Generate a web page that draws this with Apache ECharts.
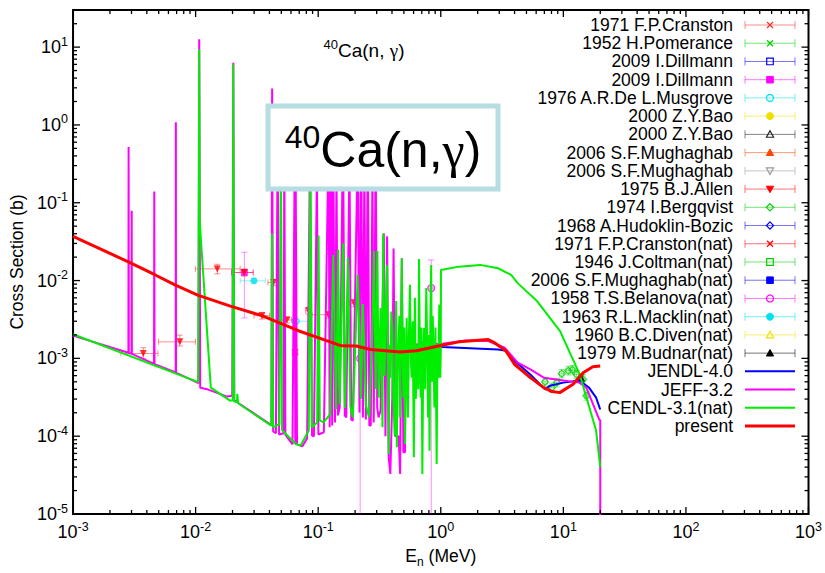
<!DOCTYPE html>
<html>
<head>
<meta charset="utf-8">
<script src="https://cdn.jsdelivr.net/npm/echarts@6/dist/echarts.min.js"></script>
<style>html,body{margin:0;padding:0;background:#fff}#c{width:825px;height:573px}</style>
</head>
<body>
<div id="c"></div>
<script>
// ---------------- axis ranges ----------------
const X_MIN = 1e-3, X_MAX = 1e3, Y_MIN = 1e-5, Y_MAX = 30;

// ---------------- evaluated data: [E (MeV), sigma (b)] ----------------
const jendl40 = [
  [0.497, 1.49e-3], [1.028, 1.40e-3], [2.93, 1.30e-3], [3.40, 1.25e-3], [3.99, 9.3e-4],
  [5.38, 6.22e-4], [7.09, 4.0e-4], [7.78, 4.46e-4], [10.0, 4.88e-4], [13.5, 5.2e-4],
  [16.2, 4.21e-4], [18.5, 3.13e-4], [20.0, 2.2e-4]
];

const jeff32 = [
  [1.0e-3, 1.96e-3],
  [2.83e-3, 1.18e-3], [2.84e-3, 0.52], [2.85e-3, 1.17e-3],
  [3.00e-3, 1.15e-3], [3.01e-3, 0.079], [3.02e-3, 1.14e-3],
  [4.58e-3, 8.5e-4], [4.60e-3, 0.14], [4.62e-3, 8.4e-4],
  [6.88e-3, 6.6e-4], [6.90e-3, 1.08], [6.92e-3, 6.55e-4],
  [0.01055, 4.8e-4], [0.0107, 12.6], [0.0109, 4.2e-4], [0.0125, 4.0e-4],
  [0.0181, 3.23e-4], [0.0199, 3.3e-4], [0.0203, 6.3], [0.0207, 2.9e-4],
  [0.0231, 2.57e-4], [0.0415, 1.39e-4],
  [0.0421, 2.95], [0.0429, 1.15e-4], [0.0452, 1.09e-4], [0.0467, 0.89], [0.0480, 1.05e-4],
  [0.0522, 1.09e-4], [0.0529, 0.5], [0.0540, 1.05e-4], [0.0617, 7.86e-5], [0.0643, 0.367],
  [0.0650, 8.0e-5], [0.0655, 0.274], [0.0672, 7.86e-5], [0.0741, 7.4e-5], [0.0812, 9.37e-5],
  [0.0858, 0.5], [0.0890, 1.02e-4], [0.0923, 1.0e-4], [0.0976, 0.236], [0.1004, 1.05e-4],
  [0.1112, 1.12e-4], [0.1217, 0.662], [0.1240, 1.3e-4], [0.1273, 0.367], [0.1300, 1.37e-4],
  [0.1327, 0.5], [0.1371, 1.5e-4], [0.1410, 0.274], [0.1450, 1.85e-4], [0.1498, 2.33e-4],
  [0.1594, 0.89], [0.1648, 1.85e-4], [0.1694, 1.74e-4], [0.1800, 0.367], [0.1860, 1.64e-4],
  [0.1917, 1.58e-4], [0.2101, 0.5], [0.2172, 2.01e-4], [0.2233, 1.19], [0.2317, 1.74e-4],
  [0.2382, 0.367], [0.2450, 1.64e-4], [0.2541, 0.662], [0.2614, 1.37e-4], [0.2685, 1.37e-4],
  [0.2770, 0.274], [0.2837, 1.5e-4], [0.2943, 0.5], [0.3030, 2.33e-4], [0.3110, 1.74e-4],
  [0.3226, 2.14e-4], [0.3428, 0.0404], [0.3537, 1.0e-4], [0.3649, 0.037], [0.3758, 5.36e-5],
  [0.3877, 3.27e-5], [0.4023, 3.13e-4], [0.4120, 0.0259], [0.4250, 1.0e-4], [0.4533, 1.0e-4],
  [0.4660, 3.27e-5], [0.4808, 0.0193], [0.4952, 6.21e-5], [0.5108, 6.21e-5],
  [0.512, 1.5e-3], [1.03, 1.54e-3], [1.59, 1.70e-3], [2.44, 1.67e-3], [3.32, 1.37e-3],
  [4.24, 8.8e-4], [5.38, 7.2e-4], [6.92, 5.65e-4], [10.0, 5.2e-4], [13.5, 4.88e-4],
  [15.4, 4.21e-4], [19.6, 1.64e-4], [20.0, 1.6e-4], [20.0, 1.0e-6]
];

const cendl31 = [
  [1.0e-3, 2.04e-3], [0.0105, 4.95e-4], [0.0107, 9.4], [0.0108, 0.058], [0.0133, 4.21e-4],
  [0.0192, 2.84e-4], [0.0201, 2.9e-4], [0.0203, 6.0], [0.0206, 2.8e-4], [0.0217, 2.75e-4],
  [0.0219, 3.5e-4], [0.0222, 2.65e-4], [0.0415, 1.36e-4],
  [0.0420, 0.040], [0.0429, 1.30e-4], [0.0482, 1.43e-4], [0.0497, 0.5], [0.0507, 1.2e-4],
  [0.0655, 7.93e-5], [0.0718, 7.56e-5], [0.0838, 1.18e-4], [0.0863, 0.5], [0.0890, 1.3e-4],
  [0.0980, 1.5e-4], [0.1007, 0.038], [0.1030, 1.6e-4], [0.1104, 1.50e-4],
  [0.1250, 1.9e-4], [0.1327, 0.0213], [0.1400, 2.2e-4], [0.1455, 0.025], [0.1498, 2.57e-4],
  [0.1594, 0.030], [0.1650, 2.3e-4], [0.1748, 0.020], [0.1830, 2.4e-4], [0.1917, 1.74e-4],
  [0.2101, 0.012], [0.2233, 3.0e-4], [0.2317, 5.0e-3], [0.2450, 2.5e-4], [0.2602, 1.74e-4],
  [0.2770, 2.5e-3], [0.2852, 0.024], [0.2943, 4.0e-4], [0.3042, 0.024], [0.3110, 3.13e-4],
  [0.3226, 4.44e-3], [0.3347, 1.3e-4], [0.3386, 0.040], [0.3480, 6.0e-4], [0.3560, 4.0e-3],
  [0.3649, 0.0159], [0.3700, 8.0e-4], [0.3758, 5.9e-5], [0.3820, 1.5e-3], [0.3877, 5.65e-4],
  [0.3950, 4.0e-3], [0.4023, 2.46e-3], [0.4100, 3.0e-4], [0.4212, 1.0e-4], [0.4280, 2.0e-3],
  [0.4329, 5.46e-3], [0.4385, 7.2e-5], [0.4460, 8.0e-4], [0.4533, 1.83e-3], [0.4600, 3.5e-3],
  [0.4660, 1.74e-4], [0.4808, 0.0193], [0.4880, 1.2e-3], [0.4952, 3.13e-4], [0.5030, 2.5e-3],
  [0.5108, 7.93e-5], [0.5271, 3.3e-3], [0.5330, 6.0e-4], [0.5399, 1.74e-4], [0.5500, 2.0e-3],
  [0.5602, 8.81e-3], [0.5700, 1.0e-3], [0.5780, 5.65e-4], [0.5900, 3.0e-3], [0.6029, 5.36e-5],
  [0.6150, 6.0e-3], [0.6256, 3.0e-4], [0.6431, 1.5e-3], [0.6550, 4.0e-4], [0.6648, 0.0189],
  [0.6750, 1.0e-3], [0.6859, 3.13e-4], [0.6960, 2.5e-3], [0.7075, 3.27e-5], [0.7200, 1.2e-3],
  [0.7314, 2.46e-3], [0.7450, 4.0e-4], [0.7616, 8.0e-3], [0.7750, 1.5e-3], [0.7872, 1.74e-4],
  [0.7980, 2.0e-3], [0.8093, 6.52e-5], [0.8220, 3.0e-3], [0.8349, 0.0159], [0.8470, 5.0e-4],
  [0.8599, 3.51e-3], [0.8740, 1.0e-3], [0.8873, 2.33e-4], [0.9050, 2.5e-3], [0.9255, 4.4e-5],
  [0.9400, 1.5e-3], [0.9548, 5.65e-4], [0.9725, 4.89e-3], [0.9910, 5.65e-4], [1.0, 1.2e-3],
  [1.0035, 0.0137], [1.405, 0.0151], [2.095, 0.0159], [2.93, 0.0144], [3.75, 0.0118],
  [4.24, 9.27e-3], [6.12, 5.41e-3], [9.4, 2.24e-3], [13.6, 6.22e-4], [18.5, 1.18e-4],
  [20.0, 4.0e-5]
];

const present = [
  [1.0e-3, 0.037], [2.80e-3, 0.0175], [4.69e-3, 0.0118], [6.78e-3, 8.8e-3], [0.0104, 6.5e-3],
  [0.0192, 4.7e-3], [0.0355, 3.5e-3], [0.0697, 2.25e-3], [0.155, 1.45e-3], [0.2035, 1.44e-3],
  [0.2685, 1.30e-3], [0.466, 1.21e-3], [0.634, 1.25e-3], [0.98, 1.45e-3], [1.405, 1.63e-3],
  [2.44, 1.75e-3], [2.76, 1.58e-3], [3.40, 1.25e-3], [3.99, 8.4e-4], [5.38, 5.65e-4],
  [6.92, 4.21e-4], [8.07, 3.74e-4], [9.35, 3.63e-4], [12.0, 4.64e-4], [14.5, 6.55e-4],
  [17.4, 7.8e-4], [20.0, 7.97e-4]
];

// ---------------- experimental data: [E, sigma, Elow, Ehigh, sigmaLow, sigmaHigh] ----------------
const cranston1971 = [[0.0648, 1.2e-3, 0.0614, 0.0683, 1.1e-3, 1.3e-3]];
const pomerance1952 = [];
const dillmann2009a = [];
const dillmann2009b = [[0.025, 0.0127, 0.0197, 0.0295, 3.3e-3, 0.0231]];
const musgrove1976 = [[0.0655, 3.0e-3, 0.0614, 0.0839, 2.85e-3, 3.15e-3]];
const bao2000a = [];
const bao2000b = [];
const mughabghab2006a = [];
const mughabghab2006b = [];
const allen1975 = [
  [3.74e-3, 1.156e-3, 2.46e-3, 4.93e-3, 9.9e-4, 1.37e-3],
  [7.43e-3, 1.63e-3, 4.98e-3, 9.97e-3, 1.44e-3, 1.99e-3],
  [0.01502, 0.01412, 9.97e-3, 0.0231, 0.0122, 0.0162],
  [0.0249, 0.0127, 0.0197, 0.0295, 0.0114, 0.0141],
  [0.0348, 3.54e-3, 0.0299, 0.0401, 3.2e-3, 3.9e-3],
  [0.0432, 9.46e-3, 0.0389, 0.0494, 8.6e-3, 0.0104],
  [0.0555, 3.12e-3, 0.0494, 0.0605, 2.85e-3, 3.4e-3],
  [0.0836, 4.1e-3, 0.079, 0.088, 3.7e-3, 4.5e-3],
  [0.121, 3.64e-3, 0.0889, 0.1355, 3.3e-3, 4.0e-3],
  [0.196, 5.14e-3, 0.18, 0.213, 4.6e-3, 5.7e-3]
];
const bergqvist1974 = [
  [7.09, 5.0e-4, 6.8, 7.4, 4.4e-4, 5.7e-4],
  [8.07, 4.21e-4, 7.8, 8.4, 3.7e-4, 4.8e-4],
  [8.85, 4.88e-4, 8.5, 9.2, 4.3e-4, 5.5e-4],
  [9.70, 6.36e-4, 9.3, 10.1, 5.6e-4, 7.2e-4],
  [10.97, 6.94e-4, 10.5, 11.4, 6.1e-4, 7.9e-4],
  [11.87, 7.15e-4, 11.4, 12.3, 6.3e-4, 8.1e-4],
  [12.8, 6.22e-4, 12.3, 13.3, 5.5e-4, 7.0e-4],
  [14.5, 5.37e-4, 14.0, 15.0, 4.7e-4, 6.1e-4],
  [15.4, 3.3e-4, 14.9, 15.9, 2.9e-4, 3.7e-4]
];
const hudoklin1968 = [];
const cranston1971nat = [];
const coltman1946nat = [];
const mughabghab2006nat = [];
const belanova1958nat = [
  [0.220, 1.0e-3, 0.212, 0.228, 1.0e-7, 1.5e-3],
  [0.836, 8.0e-3, 0.80, 0.87, 1.0e-7, 0.0184]
];
const macklin1963nat = [[0.0299, 9.92e-3, 0.0231, 0.037, 9.3e-3, 0.0106]];
const diven1960nat = [[0.412, 9.7e-4, 0.40, 0.425, 9.0e-4, 1.05e-3]];
const budnar1979nat = [[14.1, 5.6e-4, 13.8, 14.4, 5.0e-4, 6.2e-4]];

// ---------------- labels ----------------
const expNames = [
  '1971 F.P.Cranston', '1952 H.Pomerance', '2009 I.Dillmann', '2009 I.Dillmann',
  '1976 A.R.De L.Musgrove', '2000 Z.Y.Bao', '2000 Z.Y.Bao', '2006 S.F.Mughaghab',
  '2006 S.F.Mughaghab', '1975 B.J.Allen', '1974 I.Bergqvist', '1968 A.Hudoklin-Bozic',
  '1971 F.P.Cranston(nat)', '1946 J.Coltman(nat)', '2006 S.F.Mughaghab(nat)',
  '1958 T.S.Belanova(nat)', '1963 R.L.Macklin(nat)', '1960 B.C.Diven(nat)', '1979 M.Budnar(nat)'
];
const lineNames = ['JENDL-4.0', 'JEFF-3.2', 'CENDL-3.1(nat)', 'present'];
const xTickDecades = [-3, -2, -1, 0, 1, 2, 3];
const yTickDecades = [-5, -4, -3, -2, -1, 0, 1];
const titleSmall = '{sup|40}{m|Ca(n, }{g|γ}{m|)}';
const titleBig = '{sup|40}{m|Ca(n,}{g|γ}{m|)}';

const expData = [cranston1971, pomerance1952, dillmann2009a, dillmann2009b, musgrove1976,
  bao2000a, bao2000b, mughabghab2006a, mughabghab2006b, allen1975, bergqvist1974, hudoklin1968,
  cranston1971nat, coltman1946nat, mughabghab2006nat, belanova1958nat, macklin1963nat,
  diven1960nat, budnar1979nat];
const lineData = [jendl40, jeff32, cendl31, present];

// ---------------- styles ----------------
const FONT = '"Liberation Sans", Arial, Helvetica, sans-serif';
const expStyles = [
  {c: '#ff3030', shape: 'x', filled: false},
  {c: '#00d000', shape: 'x', filled: false},
  {c: '#0000ff', shape: 'rect', filled: false},
  {c: '#ff00ff', shape: 'rect', filled: true},
  {c: '#00e0f0', shape: 'circle', filled: false},
  {c: '#f0e000', shape: 'circle', filled: true},
  {c: '#222222', shape: 'tri', filled: false},
  {c: '#ff4500', shape: 'tri', filled: true},
  {c: '#999999', shape: 'trid', filled: false},
  {c: '#ff0000', shape: 'trid', filled: true},
  {c: '#00d000', shape: 'diamond', filled: false},
  {c: '#0000ff', shape: 'diamond', filled: false},
  {c: '#ff0000', shape: 'x', filled: false},
  {c: '#00d000', shape: 'rect', filled: false},
  {c: '#0000ff', shape: 'rect', filled: true},
  {c: '#ff00ff', shape: 'circle', filled: false},
  {c: '#00e0f0', shape: 'circle', filled: true},
  {c: '#f0e000', shape: 'tri', filled: false},
  {c: '#000000', shape: 'tri', filled: true}
];
const lineStyles = [
  {c: '#0000ff', w: 2}, {c: '#ff00ff', w: 2}, {c: '#00ee00', w: 2}, {c: '#ff0000', w: 3}
];

function rgba(hex, a) {
  const r = parseInt(hex.substr(1, 2), 16), g = parseInt(hex.substr(3, 2), 16), b = parseInt(hex.substr(5, 2), 16);
  return 'rgba(' + r + ',' + g + ',' + b + ',' + a + ')';
}

function makeErrRender(col) {
  return function (params, api) {
    const x = api.value(0), y = api.value(1);
    const c = api.coord([x, y]);
    const xl = api.coord([api.value(2), y])[0], xh = api.coord([api.value(3), y])[0];
    const yl = api.coord([x, api.value(4)])[1], yh = api.coord([x, api.value(5)])[1];
    const s = {stroke: col, lineWidth: 1};
    const k = 3;
    return {type: 'group', children: [
      {type: 'line', shape: {x1: xl, y1: c[1], x2: xh, y2: c[1]}, style: s},
      {type: 'line', shape: {x1: xl, y1: c[1] - k, x2: xl, y2: c[1] + k}, style: s},
      {type: 'line', shape: {x1: xh, y1: c[1] - k, x2: xh, y2: c[1] + k}, style: s},
      {type: 'line', shape: {x1: c[0], y1: yl, x2: c[0], y2: yh}, style: s},
      {type: 'line', shape: {x1: c[0] - k, y1: yl, x2: c[0] + k, y2: yl}, style: s},
      {type: 'line', shape: {x1: c[0] - k, y1: yh, x2: c[0] + k, y2: yh}, style: s}
    ]};
  };
}

function symbolOf(st) {
  if (st.shape === 'x') return {symbol: 'path://M0,0L10,10M0,10L10,0', rot: 0};
  if (st.shape === 'rect') return {symbol: 'rect', rot: 0};
  if (st.shape === 'circle') return {symbol: 'circle', rot: 0};
  if (st.shape === 'tri') return {symbol: 'triangle', rot: 0};
  if (st.shape === 'trid') return {symbol: 'triangle', rot: 180};
  return {symbol: 'diamond', rot: 0};
}

// ---------------- ticks (major at decades, minor at 2..9) ----------------
const xTicks = [], yTicks = [];
xTickDecades.forEach(function (d) {
  for (let m = 1; m <= 9; m++) {
    const v = m * Math.pow(10, d);
    if (v <= X_MAX * 1.0001) xTicks.push([v, 1, m === 1 ? 1 : 0]);
  }
});
yTickDecades.forEach(function (d) {
  for (let m = 1; m <= 9; m++) {
    const v = m * Math.pow(10, d);
    if (v <= Y_MAX * 1.0001) yTicks.push([1, v, m === 1 ? 1 : 0]);
  }
});

const series = [];
expData.forEach(function (d, i) {
  const st = expStyles[i];
  series.push({
    type: 'custom', name: expNames[i] + ' err', data: d, clip: true, silent: true, z: 2,
    encode: {x: 0, y: 1}, renderItem: makeErrRender(rgba(st.c, 0.45))
  });
  const sy = symbolOf(st);
  series.push({
    type: 'scatter', name: expNames[i], data: d, encode: {x: 0, y: 1}, clip: true, z: 3,
    symbol: sy.symbol, symbolRotate: sy.rot, symbolSize: st.shape === 'x' ? 6 : 7,
    itemStyle: st.filled ? {color: st.c} :
      {color: 'rgba(255,255,255,0)', borderColor: st.c, borderWidth: 1.2}
  });
});
lineData.forEach(function (d, i) {
  series.push({
    type: 'line', name: lineNames[i], data: d, showSymbol: false, symbol: 'none', clip: true,
    z: 4 + i, lineStyle: {color: lineStyles[i].c, width: lineStyles[i].w}, emphasis: {disabled: true}
  });
});
const tickStyle = {stroke: '#000', lineWidth: 1.3};
series.push({
  type: 'custom', data: xTicks, clip: false, silent: true, z: 20, encode: {x: 0, y: 1},
  renderItem: function (params, api) {
    const v = api.value(0), L = api.value(2) ? 7 : 4;
    const b = api.coord([v, Y_MIN]), t = api.coord([v, Y_MAX]);
    return {type: 'group', children: [
      {type: 'line', shape: {x1: b[0], y1: b[1], x2: b[0], y2: b[1] - L}, style: tickStyle},
      {type: 'line', shape: {x1: t[0], y1: t[1], x2: t[0], y2: t[1] + L}, style: tickStyle}
    ]};
  }
});
series.push({
  type: 'custom', data: yTicks, clip: false, silent: true, z: 20, encode: {x: 0, y: 1},
  renderItem: function (params, api) {
    const v = api.value(1), L = api.value(2) ? 7 : 4;
    const l = api.coord([X_MIN, v]), r = api.coord([X_MAX, v]);
    return {type: 'group', children: [
      {type: 'line', shape: {x1: l[0], y1: l[1], x2: l[0] + L, y2: l[1]}, style: tickStyle},
      {type: 'line', shape: {x1: r[0], y1: r[1], x2: r[0] - L, y2: r[1]}, style: tickStyle}
    ]};
  }
});

function powLabel(v) {
  const lg = Math.log10(v), e = Math.round(lg);
  if (Math.abs(lg - e) > 1e-6) return '';
  return '{b|10}{s|' + e + '}';
}
const labelRich = {
  b: {fontSize: 18, fontFamily: FONT, color: '#000', lineHeight: 24},
  s: {fontSize: 12.5, fontFamily: FONT, color: '#000', lineHeight: 10, verticalAlign: 'top'}
};

// ---------------- legend (gnuplot style key) ----------------
const LEG_RIGHT = 733, LEG_X1 = 745, LEG_X2 = 795, LEG_MX = 770, LEG_Y0 = 25, LEG_DY = 18.23;
function markerEl(st, cx, cy) {
  const r = 3.6;
  const s = st.filled ? {fill: st.c, stroke: st.c, lineWidth: 1} :
    {fill: 'rgba(255,255,255,0)', stroke: st.c, lineWidth: 1.2};
  if (st.shape === 'x') return {type: 'group', z: 110, children: [
    {type: 'line', shape: {x1: cx - 3, y1: cy - 3, x2: cx + 3, y2: cy + 3}, style: {stroke: st.c, lineWidth: 1.3}},
    {type: 'line', shape: {x1: cx - 3, y1: cy + 3, x2: cx + 3, y2: cy - 3}, style: {stroke: st.c, lineWidth: 1.3}}]};
  if (st.shape === 'rect') return {type: 'rect', z: 110, shape: {x: cx - 3.3, y: cy - 3.3, width: 6.6, height: 6.6}, style: s};
  if (st.shape === 'circle') return {type: 'circle', z: 110, shape: {cx: cx, cy: cy, r: 3.5}, style: s};
  if (st.shape === 'tri') return {type: 'polygon', z: 110, shape: {points: [[cx, cy - r], [cx + r, cy + r * 0.8], [cx - r, cy + r * 0.8]]}, style: s};
  if (st.shape === 'trid') return {type: 'polygon', z: 110, shape: {points: [[cx, cy + r], [cx + r, cy - r * 0.8], [cx - r, cy - r * 0.8]]}, style: s};
  return {type: 'polygon', z: 110, shape: {points: [[cx, cy - r], [cx + r, cy], [cx, cy + r], [cx - r, cy]]}, style: s};
}
const graphics = [];
const allNames = expNames.concat(lineNames);
allNames.forEach(function (name, i) {
  const y = LEG_Y0 + i * LEG_DY;
  graphics.push({type: 'text', z: 110, x: LEG_RIGHT, y: y, style: {
    text: name, fill: '#000', font: '17.5px ' + FONT, align: 'right', verticalAlign: 'middle',
    textAlign: 'right', textVerticalAlign: 'middle'}});
  if (i < expNames.length) {
    const st = expStyles[i], col = rgba(st.c, 0.55), ls = {stroke: col, lineWidth: 1};
    graphics.push({type: 'line', z: 109, shape: {x1: LEG_X1, y1: y, x2: LEG_X2, y2: y}, style: ls});
    graphics.push({type: 'line', z: 109, shape: {x1: LEG_X1, y1: y - 4, x2: LEG_X1, y2: y + 4}, style: ls});
    graphics.push({type: 'line', z: 109, shape: {x1: LEG_X2, y1: y - 4, x2: LEG_X2, y2: y + 4}, style: ls});
    graphics.push(markerEl(st, LEG_MX, y));
  } else {
    const ls = lineStyles[i - expNames.length];
    graphics.push({type: 'line', z: 109, shape: {x1: LEG_X1, y1: y, x2: LEG_X2, y2: y}, style: {stroke: ls.c, lineWidth: ls.w}});
  }
});
// title inside the plot
graphics.push({type: 'text', z: 110, x: 364, y: 50, style: {
  text: titleSmall, align: 'center', verticalAlign: 'middle', textAlign: 'center', textVerticalAlign: 'middle',
  rich: {
    m: {fontSize: 19, fontFamily: FONT, color: '#000', lineHeight: 24},
    g: {fontSize: 19, fontFamily: '"Liberation Serif", serif', color: '#000', lineHeight: 24},
    sup: {fontSize: 13, fontFamily: FONT, color: '#000', lineHeight: 12, verticalAlign: 'top'}
  }}});
// label box
graphics.push({type: 'rect', z: 120, shape: {x: 268, y: 106, width: 230, height: 83},
  style: {fill: '#ffffff', stroke: '#b6dde1', lineWidth: 5}});
graphics.push({type: 'text', z: 121, x: 383, y: 150, style: {
  text: titleBig, align: 'center', verticalAlign: 'middle', textAlign: 'center', textVerticalAlign: 'middle',
  rich: {
    m: {fontSize: 50, fontFamily: FONT, color: '#000', lineHeight: 58},
    g: {fontSize: 50, fontFamily: '"Liberation Serif", serif', color: '#000', lineHeight: 58},
    sup: {fontSize: 32, fontFamily: FONT, color: '#000', lineHeight: 38, verticalAlign: 'top'}
  }}});

const chart = echarts.init(document.getElementById('c'), null, {renderer: 'svg'});
chart.setOption({
  animation: false,
  backgroundColor: '#ffffff',
  grid: {left: 66, right: 8, top: 10, bottom: 56, show: true, borderColor: '#000', borderWidth: 2, backgroundColor: 'rgba(0,0,0,0)'},
  xAxis: {
    type: 'log', logBase: 10, min: X_MIN, max: X_MAX,
    axisLine: {show: false}, axisTick: {show: false}, splitLine: {show: false},
    axisLabel: {formatter: powLabel, margin: 6, rich: labelRich},
    name: '{b|E}{sub|n}{b| (MeV)}', nameLocation: 'middle', nameGap: 30,
    nameTextStyle: {rich: {
      b: {fontSize: 17.5, fontFamily: FONT, color: '#000', lineHeight: 24},
      sub: {fontSize: 12, fontFamily: FONT, color: '#000', lineHeight: 12, verticalAlign: 'bottom'}
    }}
  },
  yAxis: {
    type: 'log', logBase: 10, min: Y_MIN, max: Y_MAX,
    axisLine: {show: false}, axisTick: {show: false}, splitLine: {show: false},
    axisLabel: {formatter: powLabel, margin: 5, rich: labelRich},
    name: 'Cross Section (b)', nameLocation: 'middle', nameGap: 36, nameRotate: 90,
    nameTextStyle: {fontSize: 17.5, fontFamily: FONT, color: '#000'}
  },
  graphic: graphics,
  series: series
});
</script>
</body>
</html>
